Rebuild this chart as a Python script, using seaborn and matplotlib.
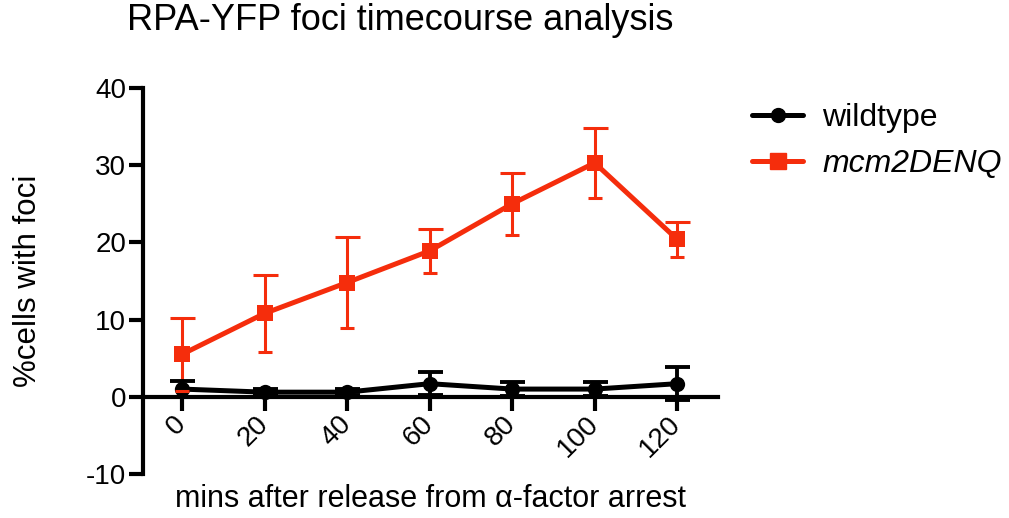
import matplotlib
matplotlib.use('Agg')
import matplotlib.pyplot as plt
from matplotlib.lines import Line2D
import seaborn as sns
import pandas as pd

# ── Data ───────────────────────────────────────────────────────────────
MINS = [0, 20, 40, 60, 80, 100, 120]
WT_MEAN = [1.0, 0.6, 0.6, 1.7, 1.0, 1.0, 1.7]
WT_ERR = [1.0, 0.4, 0.4, 1.5, 0.9, 0.9, 2.1]
MUT_MEAN = [5.5, 10.8, 14.8, 18.9, 25.0, 30.3, 20.4]
MUT_ERR = [4.7, 5.0, 5.9, 2.9, 4.0, 4.5, 2.3]
STRAINS = ['wildtype', 'mcm2DENQ']
Y_TICKS = [-10, 0, 10, 20, 30, 40]

BLACK = '#000000'
RED = '#F52D0C'

sns.set_style('ticks')
plt.rcParams['font.family'] = ['Liberation Sans', 'DejaVu Sans']
plt.rcParams['axes.unicode_minus'] = False
plt.rcParams['text.color'] = BLACK
plt.rcParams['axes.labelcolor'] = BLACK
plt.rcParams['xtick.color'] = BLACK
plt.rcParams['ytick.color'] = BLACK
plt.rcParams['axes.edgecolor'] = BLACK

df = pd.DataFrame({
    'mins': MINS * 2,
    'pct': WT_MEAN + MUT_MEAN,
    'strain': [STRAINS[0]] * len(MINS) + [STRAINS[1]] * len(MINS),
})

fig = plt.figure(figsize=(10.09, 5.18), dpi=100)
ax = fig.add_axes([143 / 1009, 1 - 474 / 518, 575 / 1009, 386 / 518])

# spines first (moving a spine resets the ticks)
ax.spines['top'].set_visible(False)
ax.spines['right'].set_visible(False)
ax.spines['bottom'].set_position(('data', 0))
ax.spines['bottom'].set_zorder(6)
for s in ['left', 'bottom']:
    ax.spines[s].set_linewidth(3)

# error bars first, lines on top
ax.errorbar(MINS, MUT_MEAN, yerr=MUT_ERR, fmt='none', ecolor=RED,
            elinewidth=2.2, capsize=9, capthick=2.2, zorder=2)
ax.errorbar(MINS, WT_MEAN, yerr=WT_ERR, fmt='none', ecolor=BLACK,
            elinewidth=2.8, capsize=9, capthick=2.8, zorder=4)

sns.lineplot(data=df, x='mins', y='pct', hue='strain', style='strain',
             hue_order=STRAINS, style_order=STRAINS,
             palette={STRAINS[0]: BLACK, STRAINS[1]: RED},
             markers={STRAINS[0]: 'o', STRAINS[1]: 's'}, dashes=False,
             linewidth=3.6, markersize=11, markeredgewidth=0,
             ax=ax, legend=False)
lines = ax.get_lines()
lines[0].set_zorder(5)
lines[0].set_markersize(10)
lines[1].set_zorder(3)

ax.set_xlim(-9.45, 129.9)
ax.set_ylim(-10, 40)
ax.set_yticks(Y_TICKS)
ax.set_xticks(MINS)
ax.set_xticklabels([str(m) for m in MINS], rotation=45, ha='right',
                   va='center', rotation_mode='anchor')

ax.tick_params(axis='y', direction='out', length=10, width=3, labelsize=20, pad=2)
ax.tick_params(axis='x', direction='out', length=10, width=3, labelsize=20, pad=7)

ax.set_xlabel('mins after release from \u03b1-factor arrest', fontsize=22)
ax.xaxis.label.set_va('baseline')
ax.xaxis.set_label_coords(0.5, (474 - 507) / 386)
ax.set_ylabel('%cells with foci', fontsize=22.5)
ax.yaxis.label.set_va('center')
ax.yaxis.set_label_coords((28 - 143) / 575, 0.5)

fig.suptitle('RPA-YFP foci timecourse analysis', x=400 / 1009, y=1 - 21 / 518,
             va='center', fontsize=26)

# legend
handles = [
    Line2D([], [], color=BLACK, marker='o', lw=3.6, markersize=10),
    Line2D([], [], color=RED, marker='s', lw=3.6, markersize=11),
]
leg = fig.legend(handles, STRAINS, loc='upper left',
                 bbox_to_anchor=(752 / 1009, 1 - 103 / 518), frameon=False,
                 fontsize=23, handlelength=1.6, labelspacing=0.5,
                 handletextpad=0.6, borderpad=0, borderaxespad=0)
leg.get_texts()[1].set_fontstyle('italic')

fig.savefig('out.png', dpi=100)
